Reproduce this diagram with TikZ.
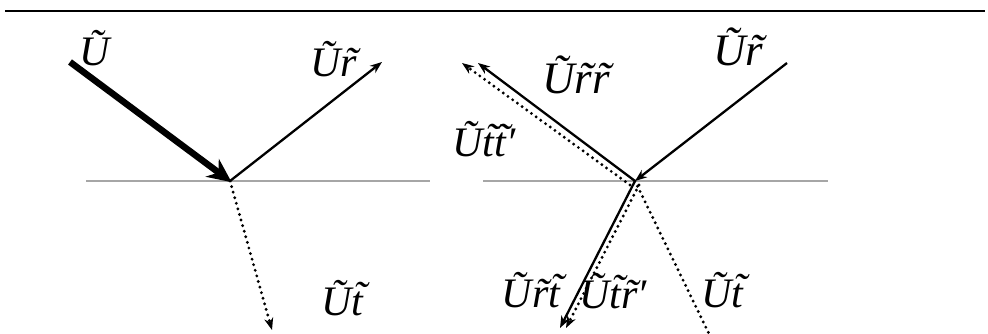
\documentclass[tikz,border=0pt]{standalone}
\usepackage{fontspec}
\setmainfont{Liberation Serif}
\usetikzlibrary{arrows.meta}
\newcommand\tilr{\ooalign{r\cr\hidewidth\kern0.12em\char"02DC\hidewidth\cr}}
\newcommand\tilt{\ooalign{t\cr\hidewidth\kern0.16em\raisebox{0.1em}{\char"02DC}\hidewidth\cr}}
\begin{document}
\begin{tikzpicture}[x=1pt,y=-1pt,
  surface/.style={draw=black!35,line width=2.5pt},
  ray/.style={draw=black,line width=2.3pt,-{Stealth[length=12pt,width=9pt]}},
  dotray/.style={draw=black,line width=3.2pt,line cap=round,dash pattern=on 0pt off 5.8pt,-{Stealth[length=12pt,width=9pt]}},
  lbl/.style={inner sep=0pt,anchor=base,font=\fontsize{42}{46}\selectfont\itshape},
  biglbl/.style={inner sep=0pt,anchor=base,font=\fontsize{45}{50}\selectfont\itshape}]
\useasboundingbox (0,0) rectangle (988,334);
\coordinate (tl) at (5,11);
\coordinate (tr) at (985,11);
\draw[line width=2.5pt] (tl) -- (tr);
% left panel
\coordinate (sl1) at (86,181);
\coordinate (sl2) at (430,181);
\draw[surface] (sl1) -- (sl2);
\coordinate (O1) at (230,181);
\coordinate (A) at (70,62);
\coordinate (R1) at (382,62);
\coordinate (T1) at (272,330);
\draw[line width=6.5pt,-{Stealth[length=24pt,width=22pt]},shorten >=-2pt] (A) -- (O1);
\draw[ray] (O1) -- (R1);
\draw[dotray] (O1) -- (T1);
\node[lbl] (lU) at (95,66) {Ũ};
\node[lbl] (lUr) at (334,77) {Ũ\tilr};
\node[lbl] (lUt) at (342,315) {Ũ\tilt};
% right panel
\coordinate (sr1) at (483,181);
\coordinate (sr2) at (828,181);
\draw[surface] (sr1) -- (sr2);
\coordinate (O2) at (635,181);
\coordinate (In) at (787,63);
\coordinate (RR) at (478,63);
\coordinate (TTs) at (630,185);
\coordinate (TT) at (462,63);
\coordinate (RT) at (560,328);
\coordinate (TRs) at (639,185);
\coordinate (TR) at (566,328);
\coordinate (T2) at (712,340);
\draw[ray] (In) -- (O2);
\draw[ray] (O2) -- (RR);
\draw[dotray] (TTs) -- (TT);
\draw[ray] (O2) -- (RT);
\draw[dotray] (TRs) -- (TR);
\draw[dotray,-] (O2) -- (T2);
\node[biglbl] (rUr) at (738,66) {Ũ\tilr};
\node[biglbl] (rUrr) at (576,94) {Ũ\tilr\tilr};
\node[lbl] (rUtt) at (484,157) {Ũ\tilt\tilt′};
\node[lbl] (rUrt) at (531,307) {Ũ\tilr\tilt};
\node[lbl] (rUtr) at (613,308) {Ũ\tilt\tilr′};
\node[lbl] (rUt) at (722,307) {Ũ\tilt};
\end{tikzpicture}
\end{document}
